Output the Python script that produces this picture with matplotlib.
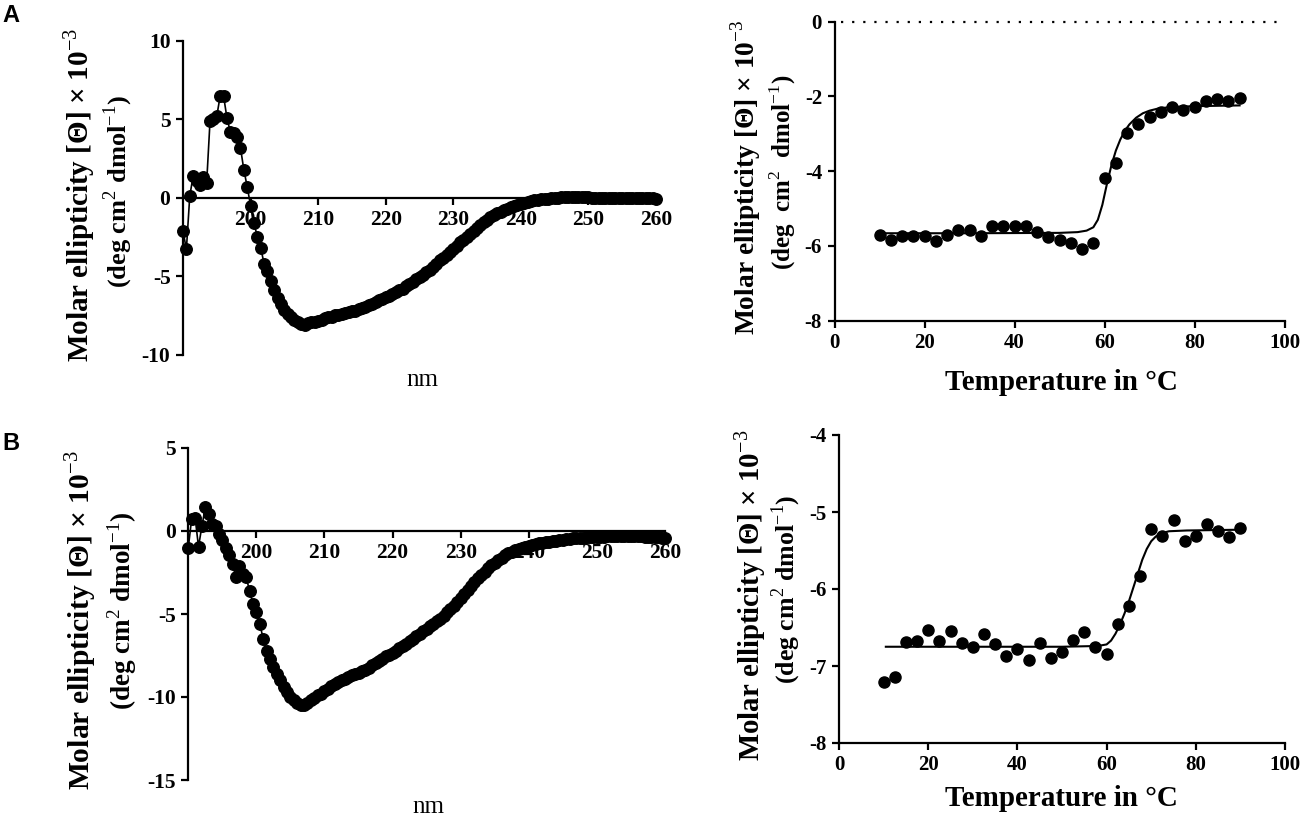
import numpy as np
import matplotlib
matplotlib.use('Agg')
import matplotlib.pyplot as plt

plt.rcParams['font.family'] = ['Liberation Serif', 'DejaVu Serif']
plt.rcParams['mathtext.fontset'] = 'custom'
plt.rcParams['mathtext.rm'] = 'Liberation Serif'
plt.rcParams['mathtext.bf'] = 'Liberation Serif:bold'
plt.rcParams['axes.unicode_minus'] = False

# ---------------- data ----------------
# CD spectra, 190-260 nm in 0.5 nm steps
wavelength = np.arange(190, 260.5, 0.5)

cd_a = [-2.1, -3.3, 0.1, 1.4, 1.1, 0.8, 1.35, 0.95, 4.9, 5.0,
        5.2, 6.5, 6.5, 5.1, 4.2, 4.1, 3.9, 3.2, 1.8, 0.7,
        -0.5, -1.6, -2.5, -3.2, -4.2, -4.7, -5.3, -5.9, -6.4, -6.8,
        -7.15, -7.4, -7.6, -7.8, -7.95, -8.05, -8.1, -8.0, -7.95, -7.9,
        -7.85, -7.8, -7.7, -7.6, -7.6, -7.5, -7.45, -7.4, -7.35, -7.3,
        -7.25, -7.2, -7.1, -7.05, -6.95, -6.85, -6.75, -6.65, -6.55, -6.45,
        -6.35, -6.25, -6.15, -6.0, -5.9, -5.8, -5.65, -5.5, -5.35, -5.2,
        -5.05, -4.9, -4.75, -4.6, -4.4, -4.2, -4.0, -3.85, -3.65, -3.45,
        -3.25, -3.05, -2.85, -2.7, -2.5, -2.3, -2.1, -1.9, -1.75, -1.55,
        -1.4, -1.25, -1.1, -1.0, -0.9, -0.8, -0.7, -0.62, -0.55, -0.48,
        -0.4, -0.32, -0.26, -0.2, -0.16, -0.12, -0.1, -0.08, -0.05, -0.03,
        -0.02, 0.0, 0.02, 0.03, 0.05, 0.05, 0.04, 0.05, 0.04, 0.02,
        0.02, 0.0, 0.01, 0.0, -0.01, 0.0, -0.02, -0.01, 0.0, -0.02,
        -0.03, -0.02, -0.03, -0.02, -0.04, -0.03, -0.03, -0.04, -0.03, -0.04,
        -0.05]

cd_b = [-1.0, 0.75, 0.8, -0.95, 0.3, 1.45, 1.05, 0.4, 0.3, -0.2,
        -0.55, -1.05, -1.45, -2.0, -2.8, -2.1, -2.6, -2.8, -3.6, -4.4,
        -4.9, -5.6, -6.5, -7.2, -7.7, -8.2, -8.6, -9.0, -9.4, -9.7,
        -10.0, -10.2, -10.35, -10.5, -10.5, -10.35, -10.2, -10.05, -9.9, -9.8,
        -9.65, -9.5, -9.35, -9.2, -9.1, -9.0, -8.9, -8.8, -8.7, -8.6,
        -8.55, -8.45, -8.35, -8.25, -8.1, -7.95, -7.85, -7.7, -7.55, -7.45,
        -7.35, -7.2, -7.05, -6.95, -6.8, -6.65, -6.5, -6.35, -6.2, -6.05,
        -5.9, -5.75, -5.6, -5.45, -5.3, -5.1, -4.9, -4.7, -4.5, -4.3,
        -4.05, -3.8, -3.55, -3.3, -3.05, -2.85, -2.65, -2.45, -2.25, -2.05,
        -1.9, -1.75, -1.6, -1.45, -1.35, -1.25, -1.15, -1.08, -1.0, -0.95,
        -0.9, -0.85, -0.8, -0.75, -0.72, -0.68, -0.64, -0.6, -0.58, -0.55,
        -0.52, -0.5, -0.48, -0.45, -0.42, -0.4, -0.4, -0.38, -0.38, -0.36,
        -0.35, -0.35, -0.34, -0.33, -0.33, -0.32, -0.32, -0.3, -0.3, -0.3,
        -0.31, -0.32, -0.33, -0.33, -0.34, -0.35, -0.36, -0.36, -0.38, -0.4,
        -0.42]

# thermal melts, 10-90 C in 2.5 C steps
temperature = np.arange(10, 90.1, 2.5)

melt_a = [-5.7, -5.84, -5.73, -5.73, -5.73, -5.86, -5.71, -5.58, -5.58, -5.73,
          -5.47, -5.47, -5.47, -5.47, -5.62, -5.75, -5.83, -5.93, -6.07, -5.91,
          -4.19, -3.77, -2.99, -2.74, -2.54, -2.41, -2.29, -2.35, -2.29, -2.11,
          -2.08, -2.11, -2.05]

melt_b = [-7.21, -7.14, -6.69, -6.68, -6.53, -6.68, -6.55, -6.70, -6.75, -6.59,
          -6.72, -6.87, -6.78, -6.92, -6.70, -6.90, -6.82, -6.66, -6.56, -6.75,
          -6.84, -6.46, -6.22, -5.83, -5.22, -5.31, -5.11, -5.38, -5.31, -5.15,
          -5.25, -5.33, -5.21]

# fitted curves as drawn
fit_t_a = [10, 30, 50, 54, 56, 57.5, 58.5, 59.5, 60.5, 61.5, 62.5, 63.5,
           64.5, 65.5, 67, 68.5, 70, 72, 75, 80, 90]
fit_y_a = [-5.66, -5.66, -5.65, -5.63, -5.59, -5.5, -5.3, -4.9, -4.35, -3.85,
           -3.45, -3.15, -2.92, -2.75, -2.57, -2.45, -2.38, -2.32, -2.28, -2.26, -2.24]

fit_t_b = [10.5, 30, 50, 58, 60, 61, 62, 63, 64, 65, 66, 67, 68, 69, 70, 71,
           72, 74, 78, 90]
fit_y_b = [-6.75, -6.75, -6.75, -6.74, -6.72, -6.67, -6.58, -6.46, -6.32, -6.16,
           -5.98, -5.8, -5.62, -5.48, -5.38, -5.32, -5.28, -5.25, -5.24, -5.23]

ylab1 = 'Molar ellipticity [\u0398] \u00d7 10$^{-3}$'
ylab2 = '(deg cm$^{2}$ dmol$^{-1}$)'
ylab2_wide = '(deg  cm$^{2}$  dmol$^{-1}$)'

# ---------------- figure ----------------
W, H = 1302, 827
fig = plt.figure(figsize=(W / 100, H / 100), dpi=100)


def axes_px(left, right, top, bottom):
    return fig.add_axes([left / W, 1 - bottom / H, (right - left) / W, (bottom - top) / H])


def text_px(x, y, s, **kw):
    fig.text(x / W, 1 - y / H, s, ha='center', va='center', **kw)


def style(ax, fs):
    for sp in ax.spines.values():
        sp.set_linewidth(1.6)
    ax.spines['top'].set_visible(False)
    ax.spines['right'].set_visible(False)
    ax.tick_params(direction='out', length=5, width=1.6, labelsize=fs, pad=4)
    for lab in ax.get_xticklabels() + ax.get_yticklabels():
        lab.set_fontweight('bold')


def cd_panel(ax, y, ylim, yticks, fs):
    ax.plot(wavelength, y, '-o', color='black', lw=1.2, ms=8.3, zorder=3, clip_on=False)
    ax.set_xlim(190, 260)
    ax.set_ylim(*ylim)
    ax.set_xticks([200, 210, 220, 230, 240, 250, 260])
    ax.set_yticks(yticks)
    ax.spines['bottom'].set_position(('data', 0))
    style(ax, fs)


def melt_panel(ax, y, fit_t, fit_y, ylim, yticks, fs):
    ax.plot(temperature, y, 'o', color='black', ms=8, zorder=3, clip_on=False)
    ax.plot(fit_t, fit_y, '-', color='black', lw=1.5, zorder=2)
    ax.set_xlim(0, 100)
    ax.set_ylim(*ylim)
    ax.set_xticks([0, 20, 40, 60, 80, 100])
    ax.set_yticks(yticks)
    style(ax, fs)


ax1 = axes_px(183, 656, 41, 354.5)
cd_panel(ax1, cd_a, (-10, 10), [-10, -5, 0, 5, 10], 15.5)

ax2 = axes_px(834.6, 1284.6, 21.7, 320.7)
melt_panel(ax2, melt_a, fit_t_a, fit_y_a, (-8, 0), [-8, -6, -4, -2, 0], 15)
ax2.axhline(0, xmin=0.015, color='black', ls=(0, (1, 4)), lw=1.6, clip_on=False)

ax3 = axes_px(188.3, 665, 448, 780)
cd_panel(ax3, cd_b, (-15, 5), [-15, -10, -5, 0, 5], 15.5)

ax4 = axes_px(839, 1285, 435, 743)
melt_panel(ax4, melt_b, fit_t_b, fit_y_b, (-8, -4), [-8, -7, -6, -5, -4], 15)

# axis titles
text_px(79, 195, ylab1, rotation=90, fontsize=21, fontweight='bold')
text_px(118, 192, ylab2, rotation=90, fontsize=19, fontweight='bold')
text_px(746, 177, ylab1, rotation=90, fontsize=19.8, fontweight='bold')
text_px(783, 172, ylab2_wide, rotation=90, fontsize=18, fontweight='bold')
text_px(81, 620, ylab1, rotation=90, fontsize=21.3, fontweight='bold')
text_px(122, 611, ylab2, rotation=90, fontsize=19.5, fontweight='bold')
text_px(750, 595, ylab1, rotation=90, fontsize=20.8, fontweight='bold')
text_px(786, 589, ylab2, rotation=90, fontsize=18.6, fontweight='bold')

text_px(422, 380, 'nm', fontsize=18)
text_px(428, 807, 'nm', fontsize=18)
text_px(1061.5, 383, 'Temperature in \u00b0C', fontsize=21, fontweight='bold')
text_px(1061.5, 798, 'Temperature in \u00b0C', fontsize=21, fontweight='bold')

text_px(11, 16, 'A', fontsize=17, fontweight='bold', family='Liberation Sans')
text_px(11, 443, 'B', fontsize=17, fontweight='bold', family='Liberation Sans')

fig.savefig('out.png', dpi=100)
